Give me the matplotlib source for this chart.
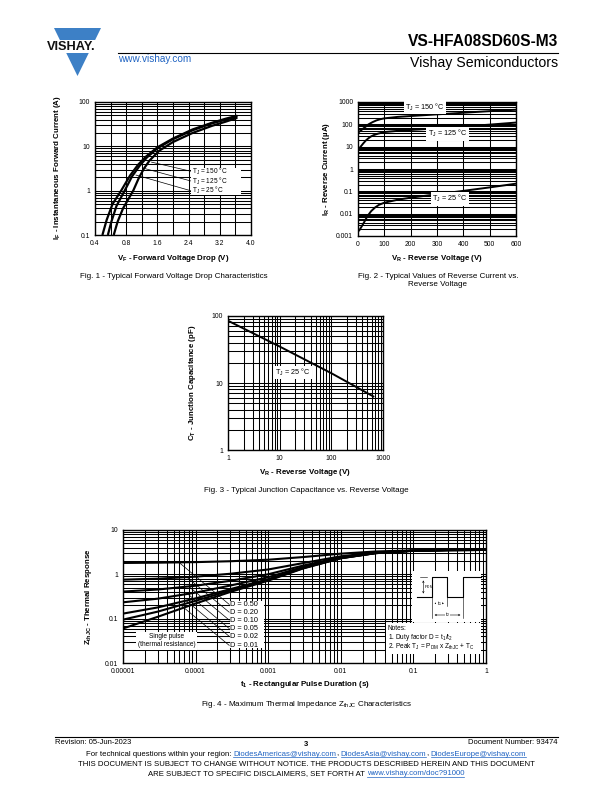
import matplotlib
matplotlib.use("Agg")
import matplotlib.pyplot as plt
from matplotlib.ticker import FixedLocator, LogLocator, NullFormatter, FixedFormatter
from matplotlib.patches import Polygon, Rectangle

plt.rcParams["font.family"] = ["Liberation Sans", "DejaVu Sans"]
plt.rcParams["mathtext.fontset"] = "custom"
plt.rcParams["mathtext.rm"] = "Liberation Sans"
plt.rcParams["mathtext.it"] = "Liberation Sans:italic"
plt.rcParams["mathtext.bf"] = "Liberation Sans:bold"
plt.rcParams["mathtext.default"] = "regular"

# ---- Fig. 1 : forward voltage drop
vf_150 = [0.19, 0.30, 0.45, 0.67, 0.90, 1.10, 1.30, 1.60, 2.00, 2.50, 3.00, 3.35, 3.65]
if_150 = [0.1, 0.22, 0.5, 1.0, 2.2, 3.8, 5.8, 9.5, 15, 24, 34, 42, 49]
vf_125 = [0.33, 0.42, 0.55, 0.76, 0.95, 1.15, 1.33, 1.60, 2.00, 2.50, 3.00, 3.35, 3.65]
if_125 = [0.1, 0.2, 0.45, 1.0, 2.1, 3.7, 5.6, 9.0, 14.5, 23, 33, 40, 47]
vf_25 = [0.48, 0.58, 0.72, 0.98, 1.12, 1.26, 1.40, 1.65, 2.00, 2.50, 3.00, 3.35, 3.65]
if_25 = [0.1, 0.2, 0.4, 1.0, 1.9, 3.2, 4.8, 8.0, 12.5, 20, 29, 36, 44]
fig1_ticks = [0, 0.8, 1.6, 2.4, 3.2, 4.0]
fig1_ticklabels = ["0.4", "0.8", "1.6", "2.4", "3.2", "4.0"]
fig1_labels = ["T$_J$ = 150 °C", "T$_J$ = 125 °C", "T$_J$ = 25 °C"]
fig1_label_i = [2.75, 1.66, 1.0]
fig1_leader_v = [1.45, 1.25, 1.05]
fig1_leader_i = [4.4, 3.2, 2.25]

# ---- Fig. 2 : reverse current
vr_150 = [0, 10, 20, 30, 40, 55, 70, 85, 100, 150, 200, 300, 400, 500, 600]
ir_150 = [42, 52, 65, 80, 100, 125, 150, 170, 185, 215, 235, 280, 330, 390, 450]
vr_125 = [0, 5, 10, 20, 30, 40, 50, 60, 75, 100, 150, 200, 300, 400, 500, 600]
ir_125 = [7, 8.5, 10, 14, 19, 24, 29, 33, 38, 45, 51, 56, 66, 80, 97, 120]
vr_25 = [5, 15, 25, 35, 50, 65, 80, 100, 150, 200, 300, 400, 500, 600]
ir_25 = [0.0018, 0.0028, 0.0045, 0.0075, 0.013, 0.019, 0.025, 0.031, 0.042,
         0.052, 0.074, 0.105, 0.15, 0.22]
fig2_label_v = [255, 340, 350]
fig2_label_i = [600, 38, 0.047]
fig2_yticks = [0.001, 0.01, 0.1, 1, 10, 100, 1000]
fig2_yticklabels = ["0.001", "0.01", "0.1", "1", "10", "100", "1000"]

# ---- Fig. 3 : junction capacitance
vr_cap = [1, 10, 100, 650]
ct_cap = [85, 35, 14, 6.3]

# ---- Fig. 4 : thermal impedance
t_pulse = [1e-5, 3e-5, 1e-4, 3e-4, 1e-3, 3e-3, 1e-2, 3e-2, 0.1, 0.3, 1]
z_d50 = [1.805, 1.83, 1.885, 1.975, 2.135, 2.45, 2.925, 3.275, 3.475, 3.535, 3.55]
z_d20 = [0.758, 0.798, 0.886, 1.03, 1.286, 1.79, 2.55, 3.11, 3.43, 3.526, 3.55]
z_d10 = [0.409, 0.454, 0.553, 0.715, 1.003, 1.57, 2.425, 3.055, 3.415, 3.523, 3.55]
z_d05 = [0.234, 0.282, 0.387, 0.558, 0.862, 1.46, 2.36, 3.03, 3.41, 3.52, 3.55]
z_d02 = [0.13, 0.179, 0.287, 0.463, 0.777, 1.394, 2.325, 3.011, 3.403, 3.52, 3.55]
z_d01 = [0.095, 0.144, 0.253, 0.432, 0.748, 1.372, 2.313, 3.006, 3.40, 3.52, 3.55]
z_single = [0.06, 0.11, 0.22, 0.40, 0.72, 1.35, 2.30, 3.00, 3.40, 3.52, 3.55]
d_labels = ["D = 0.50", "D = 0.20", "D = 0.10", "D = 0.05", "D = 0.02", "D = 0.01"]
d_label_z = [0.21, 0.14, 0.093, 0.06, 0.04, 0.025]
d_label_t = 2.9e-4
d_leader_t = [5.9e-5, 7.6e-5, 8.2e-5, 7.8e-5, 7.3e-5, 6.3e-5]
d_leader_z = [1.86, 0.86, 0.52, 0.36, 0.26, 0.2]
fig4_xticks = [1e-5, 1e-4, 1e-3, 1e-2, 0.1, 1]
fig4_xticklabels = ["0.00001", "0.0001", "0.001", "0.01", "0.1", "1"]
fig4_yticks = [0.01, 0.1, 1, 10]
fig4_yticklabels = ["0.01", "0.1", "1", "10"]

# pulse sketch (page pixels)
wave_x = [417, 431.7, 431.7, 446.7, 446.7, 463.3, 463.3, 481]
wave_y = [596.7, 596.7, 577.3, 577.3, 596.7, 596.7, 577.3, 577.3]

W, H = 612, 792
LINK = "#1f63c2"
BLUE = "#3d80c6"
fig = plt.figure(figsize=(W / 100, H / 100), dpi=100)


def box(l, t, r, b):
    return [l / W, 1 - b / H, (r - l) / W, (b - t) / H]


def style(ax):
    ax.grid(True, which="both", color="black", lw=0.75)
    ax.set_axisbelow(True)
    ax.tick_params(which="both", length=0, labelsize=4.9, pad=3.5)
    for s in ax.spines.values():
        s.set_linewidth(1.0)


def logminor(axis):
    axis.set_minor_locator(LogLocator(base=10, subs=range(2, 10)))
    axis.set_minor_formatter(NullFormatter())


page = fig.add_axes([0, 0, 1, 1])
page.set_xlim(0, W)
page.set_ylim(H, 0)
page.axis("off")

# ---------------- Fig 1
ax1 = fig.add_axes(box(95, 102, 251, 235))
ax1.set_yscale("log")
ax1.set_xlim(0, 4.0)
ax1.set_ylim(0.1, 100)
ax1.set_xticks(fig1_ticks)
ax1.set_xticklabels(fig1_ticklabels)
ax1.xaxis.set_minor_locator(FixedLocator([0.4 * k for k in range(11)]))
ax1.set_yticks([0.1, 1, 10, 100])
ax1.set_yticklabels(["0.1", "1", "10", "100"])
logminor(ax1.yaxis)
style(ax1)
for v, i in [(vf_150, if_150), (vf_125, if_125), (vf_25, if_25)]:
    ax1.plot(v, i, color="black", lw=1.6, solid_capstyle="butt")
for lab, li, lv, lli in zip(fig1_labels, fig1_label_i, fig1_leader_v, fig1_leader_i):
    ax1.plot([2.45, lv], [li, lli], color="black", lw=0.5)
ax1.add_patch(Rectangle((2.45, 0.8), 1.3, 2.4, facecolor="white", edgecolor="none",
                        zorder=2.5))
for lab, li in zip(fig1_labels, fig1_label_i):
    ax1.text(2.5, li, lab, fontsize=4.7, va="center", ha="left", zorder=3)

# ---------------- Fig 2
ax2 = fig.add_axes(box(358, 102, 516, 236))
ax2.set_yscale("log")
ax2.set_xlim(0, 600)
ax2.set_ylim(0.001, 1000)
ax2.set_xticks(range(0, 700, 100))
ax2.set_yticks(fig2_yticks)
ax2.set_yticklabels(fig2_yticklabels)
logminor(ax2.yaxis)
style(ax2)
for v, i in [(vr_150, ir_150), (vr_125, ir_125), (vr_25, ir_25)]:
    ax2.plot(v, i, color="black", lw=1.4)
for lab, lv, li in zip(fig1_labels, fig2_label_v, fig2_label_i):
    ax2.text(lv, li, lab, fontsize=5.2, va="center", ha="center",
             bbox=dict(facecolor="white", edgecolor="none", pad=1.0))

# ---------------- Fig 3
ax3 = fig.add_axes(box(228, 316, 383, 450))
ax3.set_xscale("log")
ax3.set_yscale("log")
ax3.set_xlim(1, 1000)
ax3.set_ylim(1, 100)
ax3.set_xticks([1, 10, 100, 1000])
ax3.set_xticklabels(["1", "10", "100", "1000"])
ax3.set_yticks([1, 10, 100])
ax3.set_yticklabels(["1", "10", "100"])
logminor(ax3.xaxis)
logminor(ax3.yaxis)
style(ax3)
ax3.plot(vr_cap, ct_cap, color="black", lw=1.4)
ax3.text(18, 14.5, "T$_J$ = 25 °C", fontsize=5.2, va="center", ha="center",
         bbox=dict(facecolor="white", edgecolor="none", pad=0.8))

# ---------------- Fig 4
ax4 = fig.add_axes(box(123, 530, 486, 663))
ax4.set_xscale("log")
ax4.set_yscale("log")
ax4.set_xlim(1e-5, 1)
ax4.set_ylim(0.01, 10)
ax4.xaxis.set_major_locator(FixedLocator(fig4_xticks))
ax4.xaxis.set_major_formatter(FixedFormatter(fig4_xticklabels))
ax4.yaxis.set_major_locator(FixedLocator(fig4_yticks))
ax4.yaxis.set_major_formatter(FixedFormatter(fig4_yticklabels))
logminor(ax4.xaxis)
logminor(ax4.yaxis)
style(ax4)
for z in [z_d50, z_d20, z_d10, z_d05, z_d02, z_d01, z_single]:
    ax4.plot(t_pulse, z, color="black", lw=1.5)
for lab, lz, et, ez in zip(d_labels, d_label_z, d_leader_t, d_leader_z):
    ax4.plot([d_label_t, et], [lz, ez], color="black", lw=0.5)
ax4.add_patch(Rectangle((d_label_t * 1.02, 0.0215), 5.9e-4, 0.23, facecolor="white",
                        edgecolor="none", zorder=2.5))
for lab, lz in zip(d_labels, d_label_z):
    ax4.text(d_label_t * 1.04, lz, lab, fontsize=5.3, va="center", ha="left", zorder=3)
ax4.text(4e-5, 0.032, "Single pulse\n(thermal resistance)", fontsize=4.7,
         va="center", ha="center", linespacing=1.1,
         bbox=dict(facecolor="white", edgecolor="none", pad=1.2))

# ---------------- overlay for page texts
top = fig.add_axes([0, 0, 1, 1])
top.set_xlim(0, W)
top.set_ylim(H, 0)
top.axis("off")
top.patch.set_alpha(0)

# pulse sketch and notes
top.add_patch(Rectangle((412, 571), 69, 51, facecolor="white", edgecolor="none"))
top.plot(wave_x, wave_y, color="black", lw=0.8)
top.plot([420, 427], [577.3, 577.3], color="black", lw=0.4)
top.plot([420, 427], [596.7, 596.7], color="black", lw=0.4)
top.annotate("", xy=(423.3, 577.6), xytext=(423.3, 596.4),
             arrowprops=dict(arrowstyle="<->", lw=0.4, mutation_scale=3))
top.text(424.5, 587, "P$_{DM}$", fontsize=3.2, va="center", ha="left")
top.plot([431.7, 431.7], [596.7, 618], color="black", lw=0.4)
top.plot([446.7, 446.7], [596.7, 606], color="black", lw=0.4)
top.plot([463.3, 463.3], [596.7, 618], color="black", lw=0.4)
top.annotate("", xy=(431.7, 603.3), xytext=(446.7, 603.3),
             arrowprops=dict(arrowstyle="<->", lw=0.4, mutation_scale=3))
top.text(439.2, 603.3, "t$_1$", fontsize=3.6, va="center", ha="center",
         bbox=dict(facecolor="white", edgecolor="none", pad=0.2))
top.annotate("", xy=(431.7, 615), xytext=(463.3, 615),
             arrowprops=dict(arrowstyle="<->", lw=0.4, mutation_scale=3))
top.text(447.5, 615, "t$_2$", fontsize=3.6, va="center", ha="center",
         bbox=dict(facecolor="white", edgecolor="none", pad=0.2))
top.add_patch(Rectangle((386, 623), 95, 31, facecolor="white", edgecolor="none"))
notes = ["Notes:", "1. Duty factor D = t$_1$/t$_2$",
         "2. Peak T$_J$ = P$_{DM}$ x Z$_{thJC}$ + T$_C$"]
for k, s in enumerate(notes):
    top.text(388, 628 + 9.6 * k, s, fontsize=4.7, va="center", ha="left")

# axis labels and captions
lab_kw = dict(fontsize=5.7, fontweight="bold", ha="center", va="center")
cap_kw = dict(fontsize=5.8, ha="center", va="center")
top.text(58, 168, "I$_F$ - Instantaneous Forward Current (A)", rotation=90, **lab_kw)
top.text(173, 258, "V$_F$ - Forward Voltage Drop (V)", **lab_kw)
top.text(174, 276, "Fig. 1 - Typical Forward Voltage Drop Characteristics", **cap_kw)
top.text(326, 169, "I$_R$ - Reverse Current (µA)", rotation=90, **lab_kw)
top.text(437, 258, "V$_R$ - Reverse Voltage (V)", **lab_kw)
top.text(438, 276, "Fig. 2 - Typical Values of Reverse Current vs.", **cap_kw)
top.text(438, 285, "Reverse Voltage", **cap_kw)
top.text(193, 383, "C$_T$ - Junction Capacitance (pF)", rotation=90, **lab_kw)
top.text(305, 472, "V$_R$ - Reverse Voltage (V)", **lab_kw)
top.text(306, 490, "Fig. 3 - Typical Junction Capacitance vs. Reverse Voltage", **cap_kw)
top.text(88, 597, "Z$_{thJC}$ - Thermal Response", rotation=90, **lab_kw)
top.text(305, 685, "t$_1$ - Rectangular Pulse Duration (s)", **lab_kw)
top.text(306, 704, "Fig. 4 - Maximum Thermal Impedance Z$_{thJC}$ Characteristics", **cap_kw)

# header
top.add_patch(Polygon([(54, 28), (101, 28), (77.5, 76)], closed=True,
                      facecolor=BLUE, edgecolor="none"))
top.add_patch(Rectangle((40, 39.5), 64, 13, facecolor="white", edgecolor="none"))
top.text(71, 46.5, "VISHAY.", fontsize=9.2, fontweight="bold", ha="center",
         va="center", color="#111111")
top.plot([118, 558], [53, 53], color="black", lw=0.8)
top.text(118, 58.5, "www.vishay.com", fontsize=7.2, color=LINK, ha="left", va="center")
top.text(558, 42, "VS-HFA08SD60S-M3", fontsize=11.2, fontweight="bold",
         ha="right", va="center")
top.text(558, 62.5, "Vishay Semiconductors", fontsize=10.2, ha="right", va="center")

# footer
top.plot([55, 558], [737, 737], color="black", lw=0.8)
top.text(55, 743, "Revision: 05-Jun-2023", fontsize=5.5, ha="left", va="center")
top.text(306, 744, "3", fontsize=5.5, fontweight="bold", ha="center", va="center")
top.text(558, 743, "Document Number: 93474", fontsize=5.5, ha="right", va="center")

footer_lines = [
    (754, [("For technical questions within your region:", False, 2.1),
           ("DiodesAmericas@vishay.com", True, 0), (",", False, 2.1),
           ("DiodesAsia@vishay.com", True, 0), (",", False, 2.1),
           ("DiodesEurope@vishay.com", True, 0)]),
    (765, [("THIS DOCUMENT IS SUBJECT TO CHANGE WITHOUT NOTICE. THE PRODUCTS "
            "DESCRIBED HEREIN AND THIS DOCUMENT", False, 0)]),
    (773.5, [("ARE SUBJECT TO SPECIFIC DISCLAIMERS, SET FORTH AT", False, 2.1),
             ("www.vishay.com/doc?91000", True, 0)]),
]
fig.canvas.draw()
renderer = fig.canvas.get_renderer()
for y, segs in footer_lines:
    items = []
    for s, link, gap in segs:
        t = top.text(0, y, s, fontsize=5.6, ha="left", va="center",
                     color=LINK if link else "black")
        w = t.get_window_extent(renderer).width
        items.append((t, link, w, gap))
    total = sum(w + g for _, _, w, g in items)
    x = W / 2 - total / 2
    for t, link, w, gap in items:
        t.set_x(x)
        if link:
            top.plot([x, x + w], [y + 3.4, y + 3.4], color=LINK, lw=0.5)
        x += w + gap

fig.savefig("out.png", dpi=100)
